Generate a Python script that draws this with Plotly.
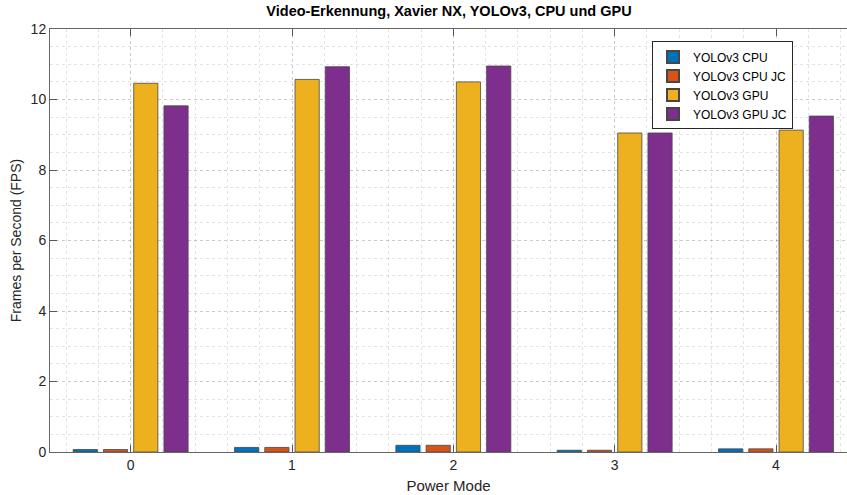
import plotly.graph_objects as go

modes = [0, 1, 2, 3, 4]
series_names = ["YOLOv3 CPU", "YOLOv3 CPU JC", "YOLOv3 GPU", "YOLOv3 GPU JC"]
cpu = [0.07, 0.13, 0.19, 0.05, 0.09]
cpu_jc = [0.07, 0.13, 0.19, 0.05, 0.09]
gpu = [10.46, 10.57, 10.50, 9.05, 9.13]
gpu_jc = [9.82, 10.93, 10.95, 9.05, 9.53]
colors = ["#0072BD", "#D95319", "#EDB120", "#7E2F8E"]
y_ticks = [0, 2, 4, 6, 8, 10, 12]

FONT = "Liberation Sans, Arial, sans-serif"
fig = go.Figure()
for name, vals, col in zip(series_names, [cpu, cpu_jc, gpu, gpu_jc], colors):
    fig.add_trace(go.Bar(
        x=modes, y=vals, name=name,
        marker=dict(color=col, line=dict(color="rgb(70,70,70)", width=0.8)),
    ))

grid_col = "rgba(0,0,0,0.11)"
fig.update_layout(
    width=847, height=495,
    margin=dict(l=50, r=0, t=28.5, b=42.5),
    paper_bgcolor="white", plot_bgcolor="white",
    barmode="group", bargap=0.25, bargroupgap=0.2,
    font=dict(family=FONT, size=14, color="#262626"),
    title=dict(text="<b>Video-Erkennung, Xavier NX, YOLOv3, CPU und GPU</b>",
               x=(449 / 847), xanchor="center", y=1 - 11 / 495, yanchor="middle",
               font=dict(family=FONT, size=14.5, color="#000000")),
    showlegend=True,
    legend=dict(x=(652 - 50) / 797, y=1 - (41 - 28.5) / 424, xanchor="left", yanchor="top",
                bgcolor="white", bordercolor="#262626", borderwidth=1,
                font=dict(family=FONT, size=12, color="#000000"),
                tracegroupgap=0, itemsizing="constant", itemwidth=30),
    xaxis=dict(
        range=[-0.5, 4.44], tickvals=modes, ticktext=[str(m) for m in modes],
        ticks="inside", ticklen=7, tickcolor="#555", tickwidth=1,
        showline=True, linecolor="#666", linewidth=1, mirror="ticks",
        showgrid=True, gridcolor=grid_col, griddash="dot", gridwidth=1,
        minor=dict(dtick=0.2, tick0=0, showgrid=True, gridcolor=grid_col, griddash="dot", ticks=""),
        zeroline=False,
        title=dict(text="Power Mode", font=dict(family=FONT, size=15, color="#262626"), standoff=8),
        tickfont=dict(family=FONT, size=14, color="#262626"),
    ),
    yaxis=dict(
        range=[0, 12], tickvals=y_ticks,
        ticks="inside", ticklen=7, tickcolor="#555", tickwidth=1,
        showline=True, linecolor="#666", linewidth=1, mirror=False,
        showgrid=True, gridcolor=grid_col, griddash="dot", gridwidth=1,
        minor=dict(dtick=0.5, tick0=0, showgrid=True, gridcolor=grid_col, griddash="dot", ticks=""),
        zeroline=False,
        title=dict(text="Frames per Second (FPS)", font=dict(family=FONT, size=14, color="#262626"), standoff=5),
        tickfont=dict(family=FONT, size=14, color="#262626"),
    ),
)
fig.write_html("out.html", config={"displayModeBar": False},
               post_script="document.body.style.margin='0';document.body.style.overflow='hidden';")
